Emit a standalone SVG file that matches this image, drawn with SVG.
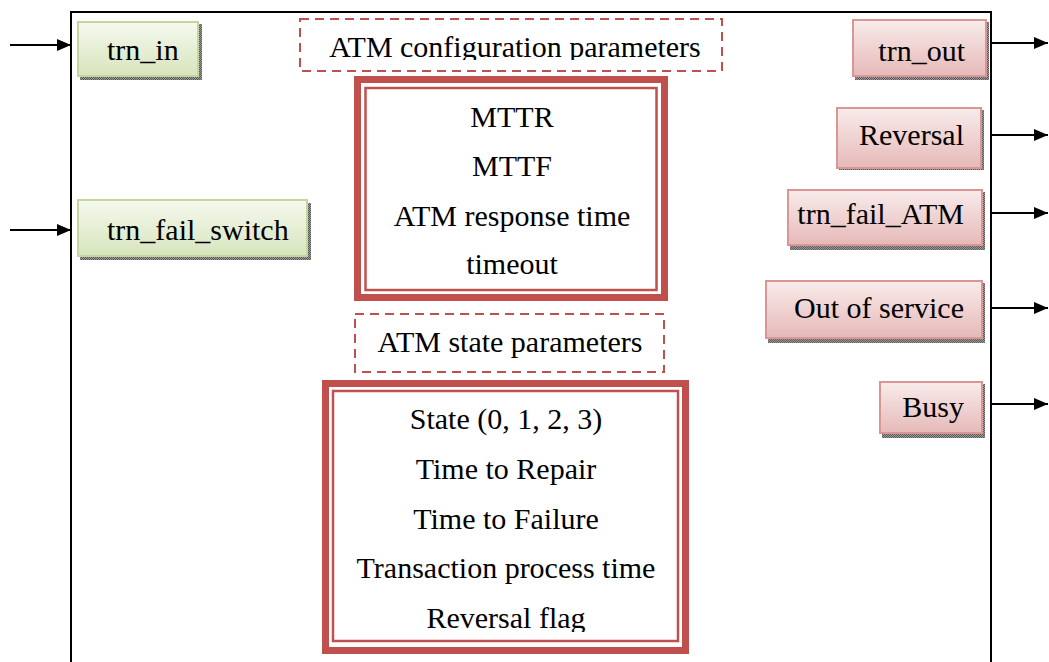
<svg xmlns="http://www.w3.org/2000/svg" width="1049" height="662" viewBox="0 0 1049 662">
  <defs>
    <linearGradient id="gGreen" x1="0" y1="0" x2="0" y2="1">
      <stop offset="0" stop-color="#f6f9ef"/>
      <stop offset="1" stop-color="#d7e4bc"/>
    </linearGradient>
    <linearGradient id="gRed" x1="0" y1="0" x2="0" y2="1">
      <stop offset="0" stop-color="#f8eceb"/>
      <stop offset="1" stop-color="#e6b9b8"/>
    </linearGradient>
    <pattern id="dots" width="2" height="2" patternUnits="userSpaceOnUse">
      <rect width="2" height="2" fill="#9a9a9a"/>
      <rect width="1" height="1" fill="#5a5a5a"/>
      <rect x="1" y="1" width="1" height="1" fill="#5a5a5a"/>
    </pattern>
    <marker id="arrow" viewBox="0 0 14 12" refX="14" refY="6" markerWidth="14" markerHeight="12" markerUnits="userSpaceOnUse" orient="auto">
      <path d="M0,0 L14,6 L0,12 Z" fill="#000"/>
    </marker>
    <clipPath id="clipConfigLabel"><rect x="300" y="19" width="422" height="41"/></clipPath>
    <clipPath id="clipState"><rect x="322" y="380" width="367" height="252"/></clipPath>
  </defs>
  <style>
    text { font-family: "Liberation Serif", "Times New Roman", serif; font-size: 30px; fill: #000; }
    .mid { text-anchor: middle; }
    .end { text-anchor: end; }
    .shadow { fill: url(#dots); }
    .in { fill: url(#gGreen); stroke: #c3d69b; stroke-width: 2; }
    .out { fill: url(#gRed); stroke: #d99694; stroke-width: 2; }
    .dashed { fill: #fff; stroke: #c0504d; stroke-width: 2; stroke-dasharray: 9 6; }
    .thick { fill: #fff; stroke: #c0504d; stroke-width: 7; }
    .thin { fill: none; stroke: #c0504d; stroke-width: 2.5; }
    .conn { stroke: #000; stroke-width: 1.8; fill: none; marker-end: url(#arrow); }
  </style>

  <rect width="1049" height="662" fill="#fff"/>

  <!-- ATM block frame -->
  <rect id="frame" x="71" y="12" width="920" height="720" fill="none" stroke="#000" stroke-width="2"/>

  <!-- input / output connectors -->
  <g id="connectors">
    <line class="conn" x1="10" y1="45" x2="71" y2="45"/>
    <line class="conn" x1="10" y1="230" x2="71" y2="230"/>
    <line class="conn" x1="991" y1="43" x2="1048" y2="43"/>
    <line class="conn" x1="991" y1="135" x2="1048" y2="135"/>
    <line class="conn" x1="991" y1="213" x2="1048" y2="213"/>
    <line class="conn" x1="991" y1="308" x2="1048" y2="308"/>
    <line class="conn" x1="991" y1="404" x2="1048" y2="404"/>
  </g>

  <!-- inputs -->
  <g id="trn_in">
    <rect class="shadow" x="80" y="24" width="122" height="56"/>
    <rect class="in" x="78" y="22" width="120" height="54"/>
    <text x="107" y="60">trn_in</text>
  </g>
  <g id="trn_fail_switch">
    <rect class="shadow" x="80" y="203" width="231" height="57"/>
    <rect class="in" x="78" y="200" width="229" height="56"/>
    <text x="107" y="240">trn_fail_switch</text>
  </g>

  <!-- configuration parameters -->
  <g id="config_label">
    <rect class="dashed" x="300" y="19" width="422" height="52"/>
    <text class="mid" x="515" y="57" clip-path="url(#clipConfigLabel)">ATM configuration parameters</text>
  </g>
  <g id="config_params">
    <rect class="thick" x="357.5" y="79.5" width="307" height="218"/>
    <rect class="thin" x="365.5" y="88" width="291" height="202"/>
    <text class="mid" x="512" y="127">MTTR</text>
    <text class="mid" x="512" y="176">MTTF</text>
    <text class="mid" x="512" y="226">ATM response time</text>
    <text class="mid" x="512" y="274">timeout</text>
  </g>

  <!-- state parameters -->
  <g id="state_label">
    <rect class="dashed" x="355" y="314" width="309" height="58"/>
    <text class="mid" x="510" y="352">ATM state parameters</text>
  </g>
  <g id="state_params">
    <rect class="thick" x="325.5" y="383.5" width="360" height="267"/>
    <rect class="thin" x="333" y="391" width="345" height="250"/>
    <g clip-path="url(#clipState)">
      <text class="mid" x="506" y="429">State (0, 1, 2, 3)</text>
      <text class="mid" x="506" y="479">Time to Repair</text>
      <text class="mid" x="506" y="529">Time to Failure</text>
      <text class="mid" x="506" y="578">Transaction process time</text>
      <text class="mid" x="506" y="628">Reversal flag</text>
    </g>
  </g>

  <!-- outputs -->
  <g id="trn_out">
    <rect class="shadow" x="855" y="22" width="134" height="58"/>
    <rect class="out" x="853" y="20" width="133" height="56"/>
    <text class="end" x="965" y="61">trn_out</text>
  </g>
  <g id="reversal">
    <rect class="shadow" x="839" y="110" width="145" height="60"/>
    <rect class="out" x="837" y="108" width="144" height="60"/>
    <text class="end" x="964" y="145">Reversal</text>
  </g>
  <g id="trn_fail_ATM">
    <rect class="shadow" x="790" y="192" width="195" height="58"/>
    <rect class="out" x="788" y="190" width="194" height="55"/>
    <text class="end" x="964" y="224">trn_fail_ATM</text>
  </g>
  <g id="out_of_service">
    <rect class="shadow" x="768" y="283" width="217" height="60"/>
    <rect class="out" x="766" y="281" width="216" height="57"/>
    <text class="end" x="964" y="318">Out of service</text>
  </g>
  <g id="busy">
    <rect class="shadow" x="882" y="384" width="103" height="54"/>
    <rect class="out" x="880" y="382" width="102" height="51"/>
    <text class="end" x="964" y="417">Busy</text>
  </g>
</svg>
